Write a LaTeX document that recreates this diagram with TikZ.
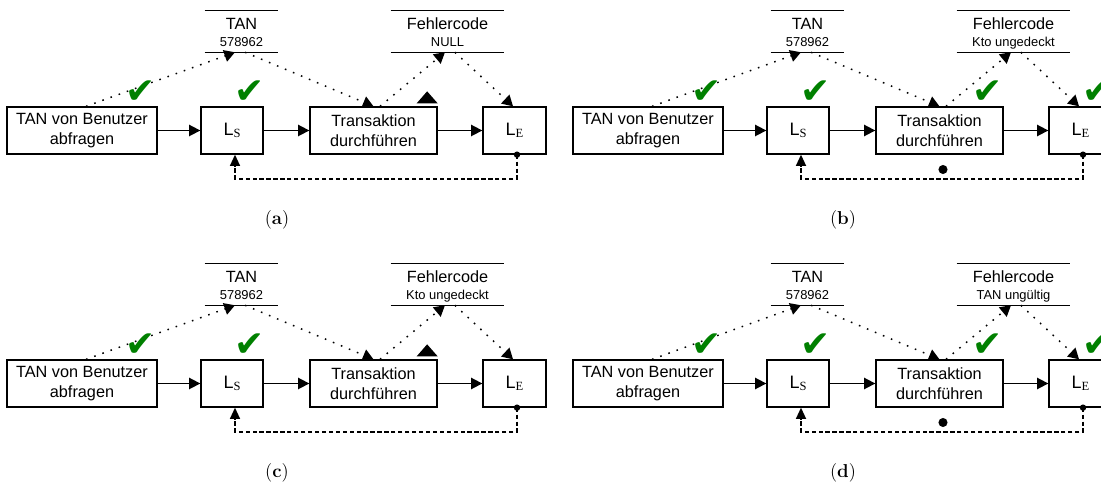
\documentclass[tikz,border=0pt]{standalone}
\usepackage{fontspec}
\usetikzlibrary{arrows.meta}
\newfontfamily\arial{Liberation Sans}
\newfontfamily\tnr{Liberation Serif}
\newfontfamily\sym{DejaVu Sans}
\definecolor{okgreen}{RGB}{0,128,0}

% L with a serif index, as used in the state boxes
\newcommand\lsub[1]{{\arial\fontsize{13.5}{15}\selectfont L}{\tnr\fontsize{9.4}{10}\selectfont\raisebox{-1.3pt}{#1}}}

\tikzset{
  proc/.style={draw, line width=1pt, minimum height=35.25pt, inner sep=0pt,
    align=center, font=\arial\fontsize{12.2}{14.6}\selectfont},
  storebox/.style={minimum height=30.75pt, inner sep=0pt},
  storeline/.style={line width=1pt},
  headtext/.style={font=\arial\fontsize{12.2}{14}\selectfont, inner sep=0pt, anchor=base},
  valtext/.style={font=\arial\fontsize{9.7}{11}\selectfont, inner sep=0pt, anchor=base},
  flow/.style={line width=1.3pt, -{Triangle[length=8.5pt,width=8.5pt]}},
  dataflow/.style={line width=1.1pt, dash pattern=on 1.2pt off 5.3pt,
    -{Triangle[length=8pt,width=9pt]}},
  feedback/.style={line width=1.3pt, dash pattern=on 3.2pt off 2pt,
    -{Triangle[length=8.5pt,width=7.5pt]}},
  check/.style={text=okgreen, font=\sym\fontsize{27}{27}\selectfont, inner sep=0pt},
  dotmark/.style={circle, fill=black, minimum size=6.8pt, inner sep=0pt},
  caption/.style={font=\fontsize{14}{16}\selectfont, inner sep=0pt},
}

% one flow panel: #1 name prefix, #2/#3 offset, #4 error value, #5 caption letter, #6 extras
\newcommand\flowpanel[6]{%
\begin{scope}[shift={(#2,#3)}]
  \node[proc, minimum width=112.5pt] (#1b)  at (82,130.5)    {TAN von Benutzer\\abfragen};
  \node[proc, minimum width=46.5pt]  (#1ls) at (232,130.5)   {\lsub{S}};
  \node[proc, minimum width=95.25pt] (#1tr) at (373.5,130.5) {Transaktion\\durchführen};
  \node[proc, minimum width=47.25pt] (#1le) at (514.5,130.5) {\lsub{E}};
  % data stores
  \node[storebox, minimum width=54.75pt] (#1tan) at (241.5,31.5) {};
  \node[storebox, minimum width=84.75pt] (#1err) at (447.5,31.5) {};
  \draw[storeline] (#1tan.north west) -- (#1tan.north east)
                   (#1tan.south west) -- (#1tan.south east);
  \draw[storeline] (#1err.north west) -- (#1err.north east)
                   (#1err.south west) -- (#1err.south east);
  \node[headtext] (#1tanh) at (241.5,29.8) {TAN};
  \node[valtext]  (#1tanv) at (241.5,46.3) {578962};
  \node[headtext] (#1errh) at (447.5,29.5) {Fehlercode};
  \node[valtext]  (#1errv) at (447.5,46.3) {#4};
  % control flow
  \draw[flow] (#1b.east) -- (#1ls.west);
  \draw[flow] (#1ls.east) -- (#1tr.west);
  \draw[flow] (#1tr.east) -- (#1le.west);
  % data flow
  \draw[dataflow] ([xshift=3pt]#1b.north) -- ([xshift=-4.9pt]#1tan.south);
  \draw[dataflow] ([xshift=2.6pt]#1tan.south) -- (#1tr.north);
  \draw[dataflow] ([xshift=4.9pt]#1tr.north) -- ([xshift=-1.9pt]#1err.south);
  \draw[dataflow] ([xshift=5.6pt]#1err.south) -- ([xshift=-1.1pt]#1le.north);
  % loop back
  \coordinate (#1fb) at ([xshift=1.9pt]#1le.south);
  \draw[feedback] (#1fb) -- ++(0,24) -| ([xshift=2.25pt]#1ls.south);
  \fill (#1fb) circle (2.4pt);
  % checks
  \node[check] (#1c1) at (140.5,92) {✔};
  \node[check] (#1c2) at (249.5,92) {✔};
  #6
  \node[caption] (#1cap) at (277,220) {(\textbf{#5})};
\end{scope}}

\begin{document}
\begin{tikzpicture}[x=0.75pt,y=-0.75pt]
  \useasboundingbox (0,0) rectangle (1101,484);
  \clip (0,0) rectangle (1101,484);
  \flowpanel{a}{0}{0}{NULL}{a}{%
    \fill ([shift={(-15.75pt,2.25pt)}]atr.north east) -- ([shift={(0pt,2.25pt)}]atr.north east)
      -- ([shift={(-7.9pt,11.25pt)}]atr.north east) -- cycle;}
  \flowpanel{b}{566}{0}{Kto ungedeckt}{b}{%
    \node[check] (bc3) at (421.5,92) {✔};
    \node[check] (bc4) at (531.5,92) {✔};
    \node[dotmark] (bdot) at (377,169.5) {};}
  \flowpanel{c}{0}{253}{Kto ungedeckt}{c}{%
    \fill ([shift={(-15.75pt,2.25pt)}]ctr.north east) -- ([shift={(0pt,2.25pt)}]ctr.north east)
      -- ([shift={(-7.9pt,11.25pt)}]ctr.north east) -- cycle;}
  \flowpanel{d}{566}{253}{TAN ungültig}{d}{%
    \node[check] (dc3) at (421.5,92) {✔};
    \node[check] (dc4) at (531.5,92) {✔};
    \node[dotmark] (ddot) at (377,169.5) {};}
\end{tikzpicture}
\end{document}
